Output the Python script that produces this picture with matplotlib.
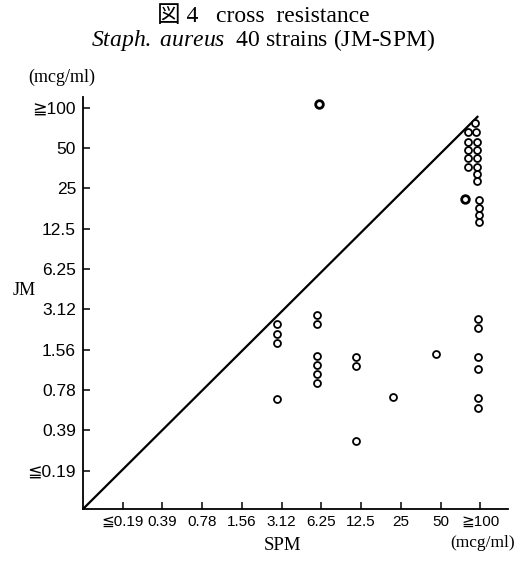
import matplotlib
matplotlib.use('Agg')
import matplotlib.pyplot as plt

# MIC categories (same scale on both axes)
mic_labels = ['≦0.19', '0.39', '0.78', '1.56', '3.12', '6.25', '12.5', '25', '50', '≧100']

# 40 strains, positions on the category scale
spm = [3.88, 3.88, 3.88, 3.88,
       4.90, 4.90, 4.90, 4.90, 4.90, 4.90, 4.94,
       5.87, 5.87, 5.87,
       6.80,
       7.89,
       8.94, 8.94, 8.94, 8.94, 8.94, 8.94,
       8.87, 8.68, 8.90, 8.70, 8.92, 8.70, 8.92, 8.70, 8.92, 8.68, 8.92,
       8.92, 8.92, 8.62, 8.96, 8.96, 8.96, 8.96]
jm = [3.63, 3.39, 3.17, 1.78,
      3.86, 3.63, 2.84, 2.61, 2.39, 2.17, 9.09,
      2.82, 2.59, 0.74,
      1.82,
      2.88,
      3.76, 3.54, 2.81, 2.53, 1.81, 1.55,
      8.62, 8.40, 8.40, 8.15, 8.15, 7.95, 7.95, 7.74, 7.74, 7.53, 7.53,
      7.35, 7.18, 6.73, 6.71, 6.52, 6.34, 6.16]
bold = [10, 35]  # two circles printed heavier

serif = ['Liberation Serif', 'DejaVu Serif', 'Noto Sans CJK JP']
sans = ['Liberation Sans', 'DejaVu Sans', 'Noto Sans CJK JP']
plt.rcParams['mathtext.fontset'] = 'custom'
plt.rcParams['mathtext.rm'] = 'Liberation Serif'
plt.rcParams['mathtext.it'] = 'Liberation Serif:italic'

fig = plt.figure(figsize=(5.27, 5.61), dpi=100)
ax = fig.add_axes([0.1575, 0.0927, 0.8065, 0.7343])

# diagonal of equal sensitivity
ax.plot([-1, 8.95], [-0.95, 8.79], color='black', lw=1.6, solid_capstyle='butt')

normal = [i for i in range(len(spm)) if i not in bold]
ax.plot([spm[i] for i in normal], [jm[i] for i in normal], 'o', ms=5,
        mfc='white', mec='black', mew=1.3, ls='none')
ax.plot([spm[i] for i in bold], [jm[i] for i in bold], 'o', ms=5.5,
        mfc='white', mec='black', mew=2.0, ls='none')

ax.set_xlim(-1, 9.7)
ax.set_ylim(-0.95, 9.26)
ax.set_xticks(range(len(mic_labels)))
ax.set_yticks(range(len(mic_labels)))
ax.set_xticklabels(mic_labels, family=sans, fontsize=11)
ax.set_yticklabels(mic_labels, family=sans, fontsize=12.5)
ax.tick_params(direction='in', length=5, width=1.1, pad=5)
ax.tick_params(axis='x', pad=4)
for s in ['top', 'right']:
    ax.spines[s].set_visible(False)
for s in ['left', 'bottom']:
    ax.spines[s].set_linewidth(1.3)

fig.text(0.5, 0.971, '図 4   cross  resistance', family=serif, fontsize=17,
         ha='center', va='center')
fig.text(0.5, 0.929, r'$\mathit{Staph.\ aureus}$  40 strains (JM-SPM)',
         family=serif, fontsize=17, ha='center', va='center')
fig.text(0.118, 0.863, '(mcg/ml)', family=serif, fontsize=13, ha='center', va='center')
fig.text(0.0455, 0.483, 'JM', family=serif, fontsize=13, ha='center', va='center')
fig.text(0.537, 0.0285, 'SPM', family=serif, fontsize=13.5, ha='center', va='center')
fig.text(0.915, 0.0325, '(mcg/ml)', family=serif, fontsize=12.5, ha='center', va='center')

fig.savefig('out.png', dpi=100)
